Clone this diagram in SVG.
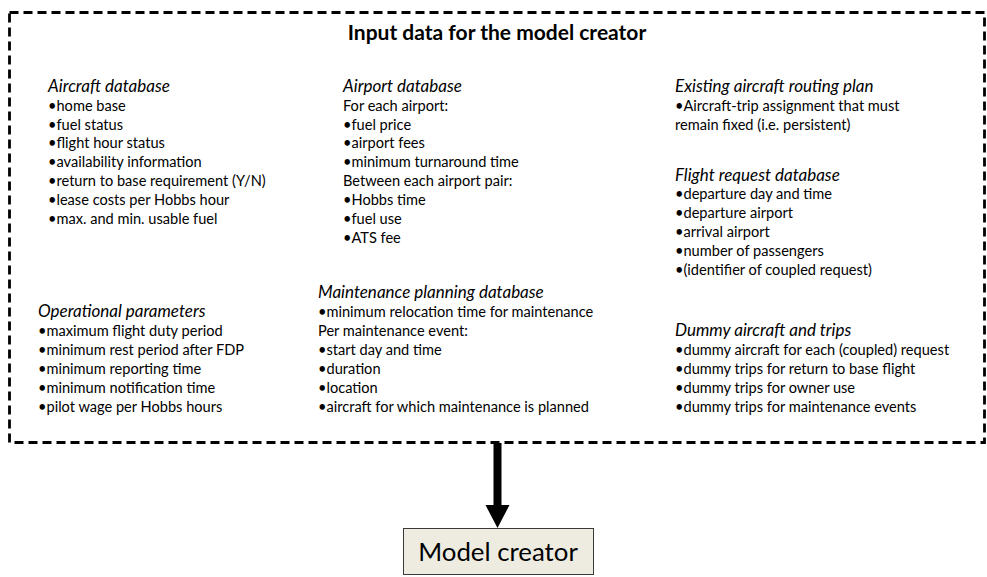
<svg xmlns="http://www.w3.org/2000/svg" width="987" height="577" viewBox="0 0 987 577">
  <defs>
    <style>
      text { font-family: Lato, "Open Sans", "Liberation Sans", sans-serif; fill: #000; }
      .body { font-size: 14.6px; }
      .head { font-size: 17px; font-style: italic; }
      .title { font-size: 21px; font-weight: bold; }
      .frame { fill: #fff; stroke: #000; stroke-width: 2.8; stroke-dasharray: 9 5; }
      .node { fill: #eeece1; stroke: #3a3a3a; stroke-width: 1; }
      .label { font-size: 25.8px; }
    </style>
  </defs>
  <rect width="987" height="577" fill="#fff"/>

  <!-- outer input-data container -->
  <g id="input-data">
    <rect class="frame" x="9.5" y="12.5" width="975" height="430"/>
    <text class="title" x="497" y="40" text-anchor="middle">Input data for the model creator</text>
  </g>

  <g id="aircraft-database">
    <text class="head" x="48" y="92">Aircraft database</text>
    <text class="body" x="48" y="111">•home base</text>
    <text class="body" x="48" y="130">•fuel status</text>
    <text class="body" x="48" y="148">•flight hour status</text>
    <text class="body" x="48" y="167">•availability information</text>
    <text class="body" x="48" y="186">•return to base requirement (Y/N)</text>
    <text class="body" x="48" y="205">•lease costs per Hobbs hour</text>
    <text class="body" x="48" y="224">•max. and min. usable fuel</text>
  </g>

  <g id="airport-database">
    <text class="head" x="343" y="92">Airport database</text>
    <text class="body" x="343" y="111">For each airport:</text>
    <text class="body" x="343" y="130">•fuel price</text>
    <text class="body" x="343" y="148">•airport fees</text>
    <text class="body" x="343" y="167">•minimum turnaround time</text>
    <text class="body" x="343" y="186">Between each airport pair:</text>
    <text class="body" x="343" y="205">•Hobbs time</text>
    <text class="body" x="343" y="224">•fuel use</text>
    <text class="body" x="343" y="243">•ATS fee</text>
  </g>

  <g id="existing-routing-plan">
    <text class="head" x="675" y="92">Existing aircraft routing plan</text>
    <text class="body" x="675" y="111">•Aircraft-trip assignment that must</text>
    <text class="body" x="675" y="130">remain fixed (i.e. persistent)</text>
  </g>

  <g id="flight-request-database">
    <text class="head" x="675" y="181">Flight request database</text>
    <text class="body" x="675" y="199">•departure day and time</text>
    <text class="body" x="675" y="218">•departure airport</text>
    <text class="body" x="675" y="237">•arrival airport</text>
    <text class="body" x="675" y="256">•number of passengers</text>
    <text class="body" x="675" y="275">•(identifier of coupled request)</text>
  </g>

  <g id="operational-parameters">
    <text class="head" x="38" y="317">Operational parameters</text>
    <text class="body" x="38" y="336">•maximum flight duty period</text>
    <text class="body" x="38" y="355">•minimum rest period after FDP</text>
    <text class="body" x="38" y="374">•minimum reporting time</text>
    <text class="body" x="38" y="393">•minimum notification time</text>
    <text class="body" x="38" y="412">•pilot wage per Hobbs hours</text>
  </g>

  <g id="maintenance-database">
    <text class="head" x="318" y="298">Maintenance planning database</text>
    <text class="body" x="318" y="317">•minimum relocation time for maintenance</text>
    <text class="body" x="318" y="336">Per maintenance event:</text>
    <text class="body" x="318" y="355">•start day and time</text>
    <text class="body" x="318" y="374">•duration</text>
    <text class="body" x="318" y="393">•location</text>
    <text class="body" x="318" y="412">•aircraft for which maintenance is planned</text>
  </g>

  <g id="dummy-aircraft-trips">
    <text class="head" x="675" y="336">Dummy aircraft and trips</text>
    <text class="body" x="675" y="355">•dummy aircraft for each (coupled) request</text>
    <text class="body" x="675" y="374">•dummy trips for return to base flight</text>
    <text class="body" x="675" y="393">•dummy trips for owner use</text>
    <text class="body" x="675" y="412">•dummy trips for maintenance events</text>
  </g>

  <!-- flow from the input data to the model creator -->
  <g id="connectors">
    <rect x="493.5" y="443" width="8" height="63" fill="#000"/>
    <polygon points="485.5,505 509.5,505 497.5,528" fill="#000"/>
  </g>

  <g id="model-creator">
    <rect class="node" x="403.5" y="528.5" width="190" height="46"/>
    <text class="label" x="498" y="561" text-anchor="middle">Model creator</text>
  </g>
</svg>
